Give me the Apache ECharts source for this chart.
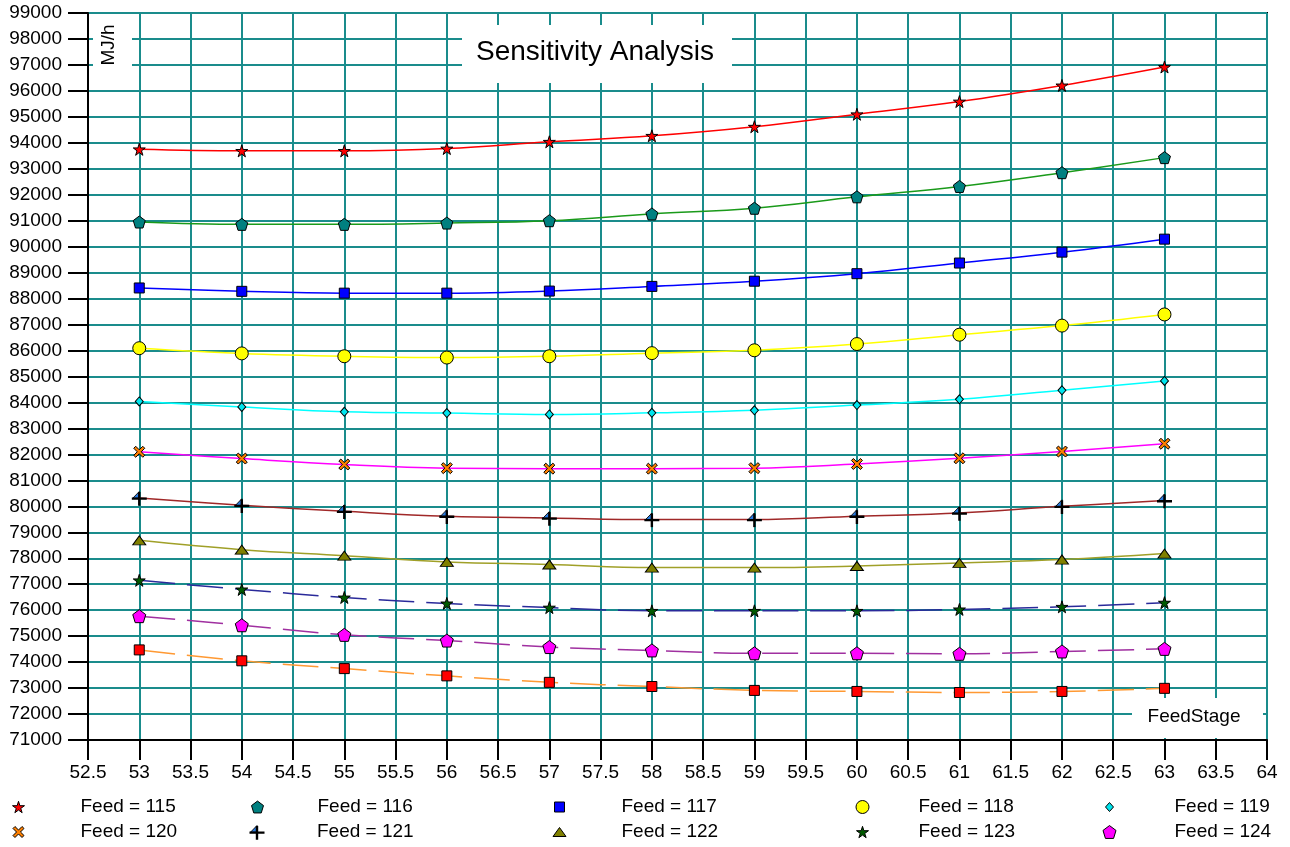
<!DOCTYPE html>
<html><head><meta charset="utf-8">
<script src="https://cdn.jsdelivr.net/npm/echarts@6/dist/echarts.min.js"></script>
<style>html,body{margin:0;padding:0;background:#fff}#c{width:1290px;height:847px}</style>
</head><body><div id="c"></div>
<script>
// ---------- data ----------
const feedStages = [53, 54, 55, 56, 57, 58, 59, 60, 61, 62, 63];
const feed115 = [93750, 93690, 93690, 93780, 94040, 94270, 94620, 95100, 95590, 96210, 96920];
const feed116 = [90950, 90860, 90860, 90910, 91000, 91260, 91480, 91920, 92320, 92850, 93430];
const feed117 = [88410, 88280, 88210, 88210, 88290, 88470, 88670, 88960, 89370, 89790, 90290];
const feed118 = [86090, 85890, 85780, 85730, 85780, 85900, 86010, 86250, 86610, 86960, 87390];
const feed119 = [84040, 83830, 83640, 83590, 83540, 83600, 83700, 83900, 84120, 84470, 84830];
const feed120 = [82100, 81840, 81610, 81470, 81450, 81450, 81470, 81630, 81850, 82110, 82410];
const feed121 = [80320, 80040, 79810, 79620, 79550, 79490, 79490, 79620, 79740, 80000, 80220];
const feed122 = [78690, 78330, 78100, 77860, 77760, 77640, 77640, 77700, 77820, 77950, 78180];
const feed123 = [77150, 76800, 76490, 76260, 76100, 75975, 75975, 75975, 76030, 76130, 76290];
const feed124 = [75770, 75420, 75050, 74830, 74580, 74450, 74340, 74340, 74320, 74410, 74510];
const feed125 = [74470, 74050, 73750, 73470, 73220, 73060, 72910, 72870, 72830, 72870, 72990];
const seriesNames = ['Feed = 115','Feed = 116','Feed = 117','Feed = 118','Feed = 119',
                     'Feed = 120','Feed = 121','Feed = 122','Feed = 123','Feed = 124','Feed = 125'];
const seriesValues = [feed115, feed116, feed117, feed118, feed119, feed120, feed121, feed122, feed123, feed124, feed125];
const xMin = 52.5, xMax = 64, xStep = 0.5;
const yMin = 71000, yMax = 99000, yStep = 1000;
const titleText = 'Sensitivity Analysis';
const yUnitText = 'MJ/h';
const xNameText = 'FeedStage';

// ---------- styles ----------
const FONT = '"Liberation Sans", Arial, sans-serif';
const STAR = 'path://M50,0 L61,35 L98,35 L68,57 L79,91 L50,70 L21,91 L32,57 L2,35 L39,35 Z';
const PENT = 'path://M50,0 L98,36 L80,95 L20,95 L2,36 Z';
const XSHAPE = 'path://M0,18 L18,0 L50,32 L82,0 L100,18 L68,50 L100,82 L82,100 L50,68 L18,100 L0,82 L32,50 Z';
const crossSvg = "<svg xmlns='http://www.w3.org/2000/svg' width='32' height='32' viewBox='0 0 16 16'>" +
  "<polygon points='1.5,8.2 8,1.5 8,8.2' fill='#2a7be0' stroke='#000' stroke-width='0.9'/>" +
  "<path d='M0.5,8.6 H15.5 M8,2 V15.8' stroke='#000' stroke-width='2.4' fill='none'/></svg>";
const CROSS = 'image://data:image/svg+xml;charset=utf-8,' + encodeURIComponent(crossSvg);

const styles = [
  {line:'#ff0000', fill:'#ff0000', symbol:STAR,   size:[12,12], dash:'solid'},
  {line:'#1a9a1a', fill:'#008080', symbol:PENT,   size:[12,12], dash:'solid'},
  {line:'#0000ff', fill:'#0000ff', symbol:'rect', size:[10,10], dash:'solid'},
  {line:'#ffff00', fill:'#ffff00', symbol:'circle', size:[13,13], dash:'solid'},
  {line:'#00ffff', fill:'#00e5ee', symbol:'diamond', size:[8,9], dash:'solid'},
  {line:'#ff00ff', fill:'#ff8000', symbol:XSHAPE, size:[11,11], dash:'solid'},
  {line:'#a02828', fill:'#000000', symbol:CROSS,  size:[16,16], dash:'solid', noBorder:true},
  {line:'#a0a028', fill:'#808000', symbol:'triangle', size:[13,9], dash:'solid'},
  {line:'#2a2a9a', fill:'#005a00', symbol:STAR,   size:[12,12], dash:[36,12]},
  {line:'#a030a0', fill:'#ff00ff', symbol:PENT,   size:[13,13], dash:[36,12]},
  {line:'#ff9933', fill:'#ff0000', symbol:'rect', size:[10,10], dash:[36,12]}
];

const series = seriesNames.map((name, i) => ({
  name: name,
  type: 'line',
  data: feedStages.map((x, k) => [x, seriesValues[i][k]]),
  smooth: 0.4,
  symbol: styles[i].symbol,
  symbolSize: styles[i].size,
  showSymbol: true,
  lineStyle: {color: styles[i].line, width: 1.5, type: styles[i].dash},
  itemStyle: {color: styles[i].fill, borderColor: '#000', borderWidth: styles[i].noBorder ? 0 : 1, opacity: 1},
  emphasis: {disabled: true},
  z: 5
}));

// legend layout (10 entries, 2 rows x 5 columns)
const legendMarkerX = [18, 257, 559, 862, 1109];
const legendTextX = [80, 317, 621, 918, 1174];
const legendRowY = [807, 832];
const legends = seriesNames.slice(0, 10).map((name, i) => {
  const c = i % 5, r = Math.floor(i / 5);
  const w = styles[i].size[0], h = styles[i].size[1];
  const left = legendMarkerX[c] - w / 2;
  const pad = legendTextX[c] - left - w - 5;
  return {
    left: left, top: legendRowY[r] - 11, padding: 0, orient: 'horizontal',
    itemWidth: w, itemHeight: h, selectedMode: false,
    data: [{name: name, icon: styles[i].symbol,
            itemStyle: {color: styles[i].fill, borderColor: '#000', borderWidth: styles[i].noBorder ? 0 : 1}}],
    textStyle: {fontSize: 19, color: '#000', fontFamily: FONT, padding: [0, 0, 0, pad], lineHeight: 22}
  };
});

const chart = echarts.init(document.getElementById('c'), null, {renderer: 'canvas'});
chart.setOption({
  animation: false,
  backgroundColor: '#fff',
  grid: {left: 88, top: 13, width: 1179, height: 727, show: true, borderColor: '#000', borderWidth: 2, backgroundColor: 'transparent'},
  xAxis: {
    type: 'value', min: xMin, max: xMax, interval: xStep,
    axisLine: {show: true, onZero: false, lineStyle: {color: '#000', width: 2}},
    axisTick: {show: true, length: 20, lineStyle: {color: '#000', width: 2}},
    axisLabel: {margin: 23, fontSize: 19, color: '#000', fontFamily: FONT, formatter: v => String(v)},
    splitLine: {show: true, lineStyle: {color: '#1a8c8c', width: 2}}
  },
  yAxis: {
    type: 'value', min: yMin, max: yMax, interval: yStep,
    axisLine: {show: true, onZero: false, lineStyle: {color: '#000', width: 2}},
    axisTick: {show: true, length: 20, lineStyle: {color: '#000', width: 2}},
    axisLabel: {margin: 26, fontSize: 19, color: '#000', fontFamily: FONT, formatter: v => String(v)},
    splitLine: {show: true, lineStyle: {color: '#1a8c8c', width: 2}}
  },
  legend: legends,
  tooltip: {show: false},
  graphic: [
    {type: 'rect', shape: {x: 462, y: 25, width: 270, height: 58}, style: {fill: '#fff'}, z: 50, silent: true},
    {type: 'text', x: 595, y: 52, style: {text: titleText, fontSize: 28, fontFamily: FONT, fill: '#000', align: 'center', verticalAlign: 'middle'}, z: 51, silent: true},
    {type: 'rect', shape: {x: 93, y: 15, width: 39, height: 66}, style: {fill: '#fff'}, z: 50, silent: true},
    {type: 'text', x: 109, y: 45, rotation: Math.PI / 2, style: {text: yUnitText, fontSize: 19, fontFamily: FONT, fill: '#000', align: 'center', verticalAlign: 'middle'}, z: 51, silent: true},
    {type: 'rect', shape: {x: 1132, y: 698, width: 131, height: 40}, style: {fill: '#fff'}, z: 50, silent: true},
    {type: 'text', x: 1194, y: 717, style: {text: xNameText, fontSize: 19, fontFamily: FONT, fill: '#000', align: 'center', verticalAlign: 'middle'}, z: 51, silent: true}
  ],
  series: series
});
</script></body></html>
